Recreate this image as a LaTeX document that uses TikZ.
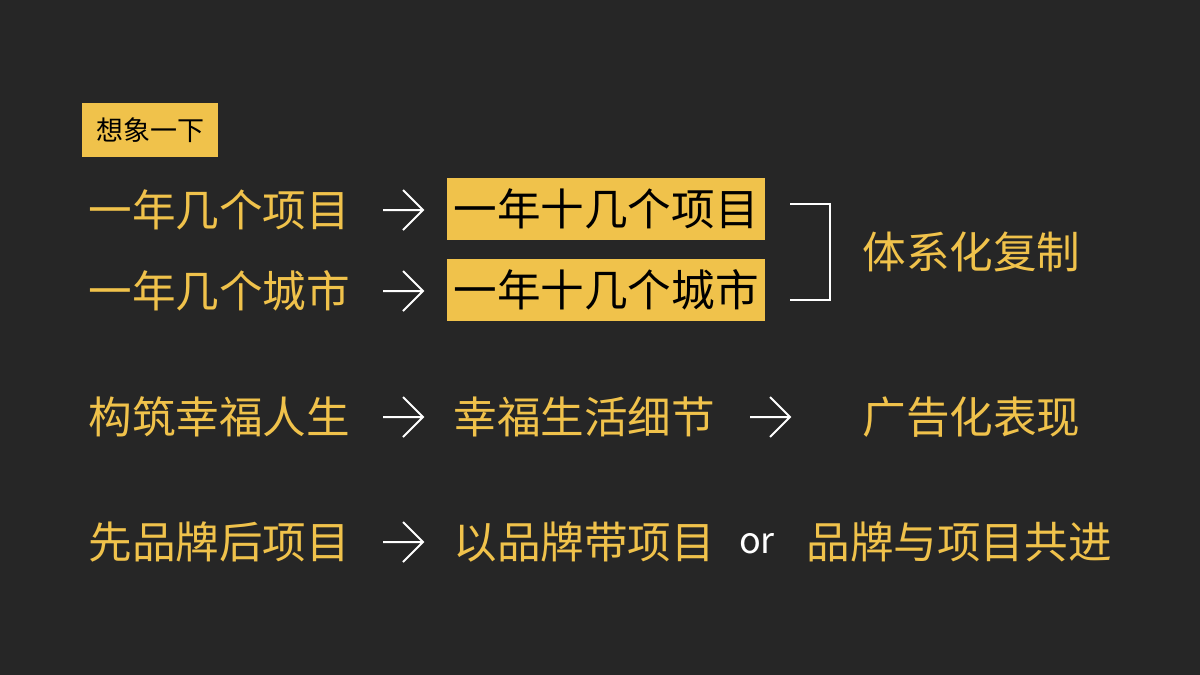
\documentclass[tikz,border=0pt]{standalone}
\usepackage{fontspec}
\setmainfont{Noto Sans CJK SC}
\definecolor{bg}{HTML}{262626}
\definecolor{yel}{HTML}{F0C24B}
\begin{document}
\begin{tikzpicture}[x=0.5pt,y=-0.5pt,
  txt/.style={text=yel,font=\fontsize{21.8}{24}\selectfont,anchor=west,inner sep=0pt},
  hl/.style={fill=yel,text=black,font=\fontsize{21.8}{24}\selectfont,inner sep=0pt,minimum width=159pt,minimum height=31pt},
  arr/.style={draw=white,line width=1pt}]
\fill[bg] (0,0) rectangle (1200,675);
\useasboundingbox (0,0) rectangle (1200,675);
\node[fill=yel,text=black,font=\fontsize{13.5}{15}\selectfont,inner sep=0pt,minimum width=68pt,minimum height=27pt] (t) at (150,130) {想象一下};
\foreach \n/\y in {a/210,b/291,c/417,d/542}{
  \coordinate (\n1) at (383,\y); \coordinate (\n2) at (423,\y);
  \draw[arr] (\n1) -- (\n2) (403,\y-20) -- (\n2) -- (403,\y+20);
}
\node[txt] (r1) at (88,210) {一年几个项目};
\node[txt] (r2) at (88,291) {一年几个城市};
\node[txt] (r3) at (88,417) {构筑幸福人生};
\node[txt] (r4) at (88,542) {先品牌后项目};
\node[hl] (h1) at (606,209) {一年十几个项目};
\node[hl] (h2) at (606,290) {一年十几个城市};
\coordinate (b1) at (790,204); \coordinate (b2) at (790,300);
\draw[white,line width=0.8pt] (b1) -- (830,204) -- (830,300) -- (b2);
\node[txt] (s) at (862,252) {体系化复制};
\node[txt] (c2) at (453,417) {幸福生活细节};
\coordinate (e1) at (750,417); \coordinate (e2) at (790,417);
\draw[arr] (e1) -- (e2) (770,397) -- (e2) -- (770,437);
\node[txt] (c3) at (862,417) {广告化表现};
\node[txt] (d2) at (453,542) {以品牌带项目};
\node[text=white,font=\fontsize{18}{20}\selectfont,inner sep=0pt] (or) at (757,544) {or};
\node[txt] (d3) at (806,542) {品牌与项目共进};
\end{tikzpicture}
\end{document}
